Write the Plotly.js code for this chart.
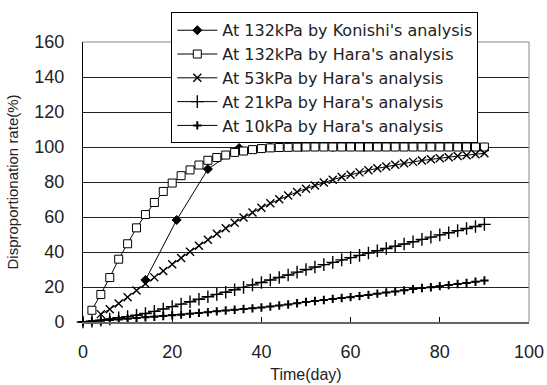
<!DOCTYPE html>
<html>
<head>
<meta charset="utf-8">
<script src="https://cdn.plot.ly/plotly-3.0.1.min.js"></script>
<style>
  html, body { margin: 0; padding: 0; background: #fff; }
  #chart { width: 547px; height: 385px; }
</style>
</head>
<body>
<div id="chart"></div>
<script>
// Disproportionation rate over time for several pressures

const seriesNames = [
  "At 132kPa by Konishi's analysis",
  "At 132kPa by Hara's analysis",
  "At 53kPa by Hara's analysis",
  "At 21kPa by Hara's analysis",
  "At 10kPa by Hara's analysis"
];

// Konishi, 132 kPa (weekly samples)
const konishiDays = [14, 21, 28, 35, 42, 49, 56, 63];
const konishi132 = [24.0, 58.3, 87.4, 99.4, 99.8, 100, 100, 100];

// Hara, 132 kPa
const hara132Days = [2, 4, 6, 8, 10, 12, 14, 16, 18, 20, 22, 24, 26, 28, 30, 32, 34, 36, 38, 40,
  42, 44, 46, 48, 50, 52, 54, 56, 58, 60, 62, 64, 66, 68, 70, 72, 74, 76, 78, 80, 82, 84, 86, 88, 90];
const hara132 = [6.7, 15.7, 25.4, 35.9, 44.7, 53.8, 61.4, 68.3, 74.6, 79.4, 83.6, 86.9, 89.7, 92.4, 94.0,
  95.4, 96.9, 97.7, 98.5, 99.1, 99.5, 99.7, 99.8, 99.9, 100, 100, 100, 100, 100, 100, 100, 100, 100, 100,
  100, 100, 100, 100, 100, 100, 100, 100, 100, 100, 100];

// Hara, 53 kPa
const hara53Days = [4, 6, 8, 10, 12, 14, 16, 18, 20, 22, 24, 26, 28, 30, 32, 34, 36, 38, 40, 42,
  44, 46, 48, 50, 52, 54, 56, 58, 60, 62, 64, 66, 68, 70, 72, 74, 76, 78, 80, 82, 84, 86, 88, 90];
const hara53 = [4.5, 7.3, 10.6, 14.2, 18.0, 21.8, 25.5, 29.2, 33.0, 36.6, 40.2, 43.6, 47.0, 50.4, 53.6,
  56.7, 59.7, 62.6, 65.3, 67.8, 70.1, 72.3, 74.3, 76.2, 78.0, 79.7, 81.3, 82.8, 84.2, 85.5, 86.7, 87.8,
  88.8, 89.8, 90.7, 91.5, 92.3, 93.0, 93.6, 94.2, 94.8, 95.3, 95.8, 96.4];

// Hara, 21 kPa
const hara21Days = [0, 2, 4, 6, 8, 10, 12, 14, 16, 18, 20, 22, 24, 26, 28, 30, 32, 34, 36, 38, 40,
  42, 44, 46, 48, 50, 52, 54, 56, 58, 60, 62, 64, 66, 68, 70, 72, 74, 76, 78, 80, 82, 84, 86, 88, 90];
const hara21 = [0, 0.5, 1.1, 1.7, 2.4, 3.1, 3.9, 4.9, 6.1, 7.4, 8.8, 10.2, 11.6, 13.0, 14.4, 15.8, 17.0,
  18.4, 19.8, 21.2, 22.6, 24.0, 25.4, 26.9, 28.5, 30.0, 31.4, 32.8, 34.1, 35.5, 36.8, 38.1, 39.4, 40.7,
  42.0, 43.3, 44.6, 45.9, 47.2, 48.5, 49.8, 51.0, 52.2, 53.4, 54.6, 55.8];

// Hara, 10 kPa
const hara10Days = [0, 2, 4, 6, 8, 10, 12, 14, 16, 18, 20, 22, 24, 26, 28, 30, 32, 34, 36, 38, 40,
  42, 44, 46, 48, 50, 52, 54, 56, 58, 60, 62, 64, 66, 68, 70, 72, 74, 76, 78, 80, 82, 84, 86, 88, 90];
const hara10 = [0, 0.4, 0.7, 1.1, 1.5, 1.9, 2.3, 2.7, 3.0, 3.4, 3.8, 4.2, 4.7, 5.2, 5.6, 6.1, 6.6, 7.0,
  7.4, 7.8, 8.3, 8.8, 9.4, 10.0, 10.7, 11.4, 12.0, 12.6, 13.2, 13.7, 14.2, 14.8, 15.5, 16.2, 16.9, 17.4,
  18.1, 18.8, 19.4, 19.9, 20.5, 21.1, 21.7, 22.3, 23.0, 23.7];

const xTicks = [0, 20, 40, 60, 80, 100];
const yTicks = [0, 20, 40, 60, 80, 100, 120, 140, 160];

const FONT = 'Liberation Sans, Arial, sans-serif';
const LEGEND_FONT = 'DejaVu Sans, Liberation Sans, sans-serif';
const INK = '#000';

function series(name, x, y, marker) {
  return {
    type: 'scatter', mode: 'lines+markers', name: name, x: x, y: y,
    line: { color: INK, width: 1 },
    marker: marker,
    cliponaxis: false
  };
}

const traces = [
  series(seriesNames[0], konishiDays, konishi132,
    { symbol: 'diamond', size: 7, color: INK, line: { color: INK, width: 1 } }),
  series(seriesNames[1], hara132Days, hara132,
    { symbol: 'square', size: 8, color: '#fff', line: { color: INK, width: 1 } }),
  series(seriesNames[2], hara53Days, hara53,
    { symbol: 'x-thin', size: 8, color: INK, line: { color: INK, width: 1.4 } }),
  series(seriesNames[3], hara21Days, hara21,
    { symbol: 'cross-thin', size: 9, color: INK, line: { color: INK, width: 1.4 } }),
  series(seriesNames[4], hara10Days, hara10,
    { symbol: 'cross-thin', size: 6, color: INK, line: { color: INK, width: 2 } })
];

const layout = {
  width: 547, height: 385,
  margin: { l: 83, r: 18, t: 40, b: 63 },
  paper_bgcolor: '#fff', plot_bgcolor: '#fff',
  font: { family: FONT, color: '#222', size: 16 },
  showlegend: true,
  legend: {
    x: 0.198, xanchor: 'left', y: 1.106, yanchor: 'top',
    bgcolor: '#fff', bordercolor: INK, borderwidth: 1,
    font: { family: LEGEND_FONT, size: 16, color: '#222' },
    itemwidth: 40, traceorder: 'normal'
  },
  xaxis: {
    range: [0, 100], tickvals: xTicks, ticktext: xTicks.map(String),
    ticks: 'inside', ticklen: 5, tickcolor: INK, tickwidth: 1,
    showline: true, linecolor: '#666', linewidth: 2,
    showgrid: false, zeroline: false, fixedrange: true,
    tickfont: { family: FONT, size: 18, color: '#222' },
    ticklabelstandoff: 12,
    title: { text: 'Time(day)', font: { family: FONT, size: 16, color: '#222' }, standoff: 8 }
  },
  yaxis: {
    range: [0, 160], tickvals: yTicks, ticktext: yTicks.map(String),
    ticks: '', showline: true, linecolor: INK, linewidth: 1,
    showgrid: true, gridcolor: '#222', gridwidth: 1,
    zeroline: false, fixedrange: true,
    tickfont: { family: FONT, size: 18, color: '#222' },
    ticklabelstandoff: 14,
    title: { text: 'Disproportionation rate(%)', font: { family: FONT, size: 15, color: '#222' }, standoff: 12 }
  },
  shapes: [
    { type: 'line', xref: 'paper', yref: 'paper', x0: 0, x1: 1, y0: 1, y1: 1,
      line: { color: '#888', width: 1 } },
    { type: 'line', xref: 'paper', yref: 'paper', x0: 1, x1: 1, y0: 0, y1: 1,
      line: { color: '#888', width: 1 } }
  ]
};

Plotly.newPlot('chart', traces, layout, { displayModeBar: false, staticPlot: true });
</script>
</body>
</html>
